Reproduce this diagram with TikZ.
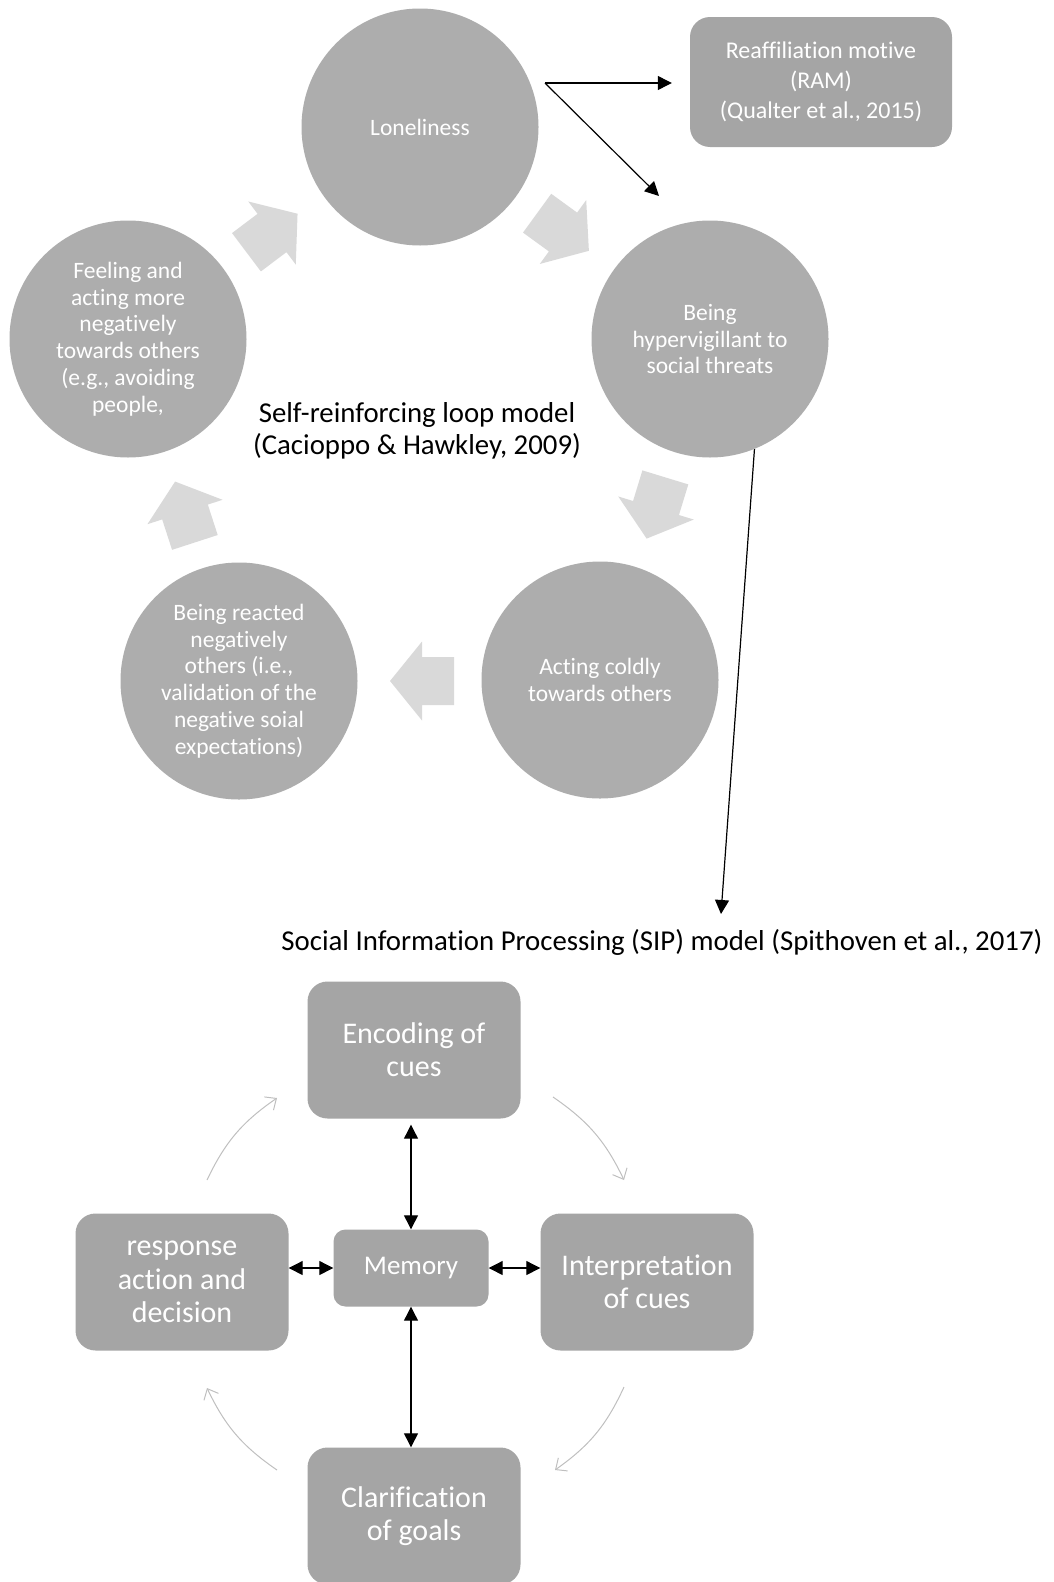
\documentclass[tikz,border=0pt]{standalone}
\usepackage{fontspec}
\setmainfont{Carlito}[Ligatures=NoCommon]
\usepackage{tikz}
\usetikzlibrary{positioning}
\usetikzlibrary{arrows.meta}
\definecolor{bubblegray}{HTML}{ADADAD}
\definecolor{cardgray}{HTML}{A5A5A5}
\definecolor{loopgray}{HTML}{D9D9D9}
\definecolor{cyclegray}{HTML}{BFBFBF}
\tikzset{bubble/.style={circle,fill=bubblegray,minimum size=237pt,inner sep=0pt,text=white,align=center,font=\fontsize{23.5}{26.7}\selectfont}}
\tikzset{card/.style={rectangle,rounded corners=20pt,fill=cardgray,text=white,align=center,minimum width=213pt,minimum height=137pt,font=\fontsize{30}{33.3}\selectfont}}
\tikzset{caption/.style={align=center,font=\fontsize{28.8}{32}\selectfont}}
\tikzset{link/.style={->,line width=1.2pt}}
\tikzset{roundabout/.style={-{Straight Barb[length=9pt,width=16pt]},draw=cyclegray,line width=1pt}}
\tikzset{looparrow/.pic={\fill[loopgray] (-32,-24) -- (0,-24) -- (0,-39.5) -- (32,0) -- (0,39.5) -- (0,24) -- (-32,24) -- cycle;}}

\begin{document}
\begin{tikzpicture}[x=1pt,y=-1pt,>={Triangle[length=14pt,width=14pt]}]
    \useasboundingbox (0,0) rectangle (1054,1582);
    % self-reinforcing loop
    \node[bubble] (lonely) at (420,127) {Loneliness};
    \node[bubble] (vigil) at (710,339) {Being\\hypervigillant to\\social threats};
    \node[bubble] (cold) at (600,680) {Acting coldly\\towards others};
    \node[bubble] (reacted) at (239,681) {Being reacted\\negatively\\others (i.e.,\\validation of the\\negative soial\\expectations)};
    \node[bubble] (feeling) at (128,339) {Feeling and\\acting more\\negatively\\towards others\\(e.g., avoiding\\people,};
    \pic[rotate=37] at (272,233) {looparrow};
    \pic[rotate=-36] at (563,232) {looparrow};
    \pic[rotate=-107] at (656,508) {looparrow};
    \pic[rotate=180] at (422,681) {looparrow};
    \pic[rotate=108] at (185,512) {looparrow};
    \node[caption] (loopname) at (417,431) {Self-reinforcing loop model\\(Cacioppo \& Hawkley, 2009)};
    \node[card,minimum width=262pt,minimum height=130pt,font=\fontsize{24}{29.8}\selectfont] (ram) at (821,82) {Reaffiliation motive\\(RAM)\\(Qualter et al., 2015)};
    \coordinate (fork) at (545,83);
    \coordinate[left=18pt of ram.west] (ramend);
    \coordinate (vigilend) at (659,196);
        \draw[link] (fork) -- (fork -| ramend);
        \draw[link] (fork) -- (vigilend);
    % SIP model
    \node[caption] (siptitle) at (662,942) {Social Information Processing (SIP) model (Spithoven et al., 2017)};
    \coordinate (sipend) at (721,914);
        \draw[link] (vigil.-68) -- (sipend);
    \node[card,minimum width=155pt,minimum height=77pt,rounded corners=12pt,font=\fontsize{27}{30}\selectfont] (memory) at (411,1268) {Memory};
    \node[card] (encode) at (414,1050) {Encoding of\\cues};
    \node[card] (interpret) at (647,1282) {Interpretation\\of cues};
    \node[card] (respond) at (182,1282) {response\\action and\\decision};
    \node[card] (clarify) at (414,1516) {Clarification\\of goals};
        \draw[link,<->,shorten >=6pt] (memory.north) -- (memory.north |- encode.south);
        \draw[link,<->] (memory.south) -- (memory.south |- clarify.north);
        \draw[link,<->] (memory.west) -- (respond.east |- memory.west);
        \draw[link,<->] (memory.east) -- (interpret.west |- memory.east);
    \coordinate (c1s) at (207,1180); \coordinate (c1e) at (277,1098);
    \coordinate (c2s) at (553,1097); \coordinate (c2e) at (624,1180);
    \coordinate (c3s) at (624,1387); \coordinate (c3e) at (555,1470);
    \coordinate (c4s) at (277,1470); \coordinate (c4e) at (207,1388);
        \draw[roundabout] (c1s) to[bend left=15] (c1e);
        \draw[roundabout] (c2s) to[bend left=15] (c2e);
        \draw[roundabout] (c3s) to[bend left=15] (c3e);
        \draw[roundabout] (c4s) to[bend left=15] (c4e);
\end{tikzpicture}
\end{document}
